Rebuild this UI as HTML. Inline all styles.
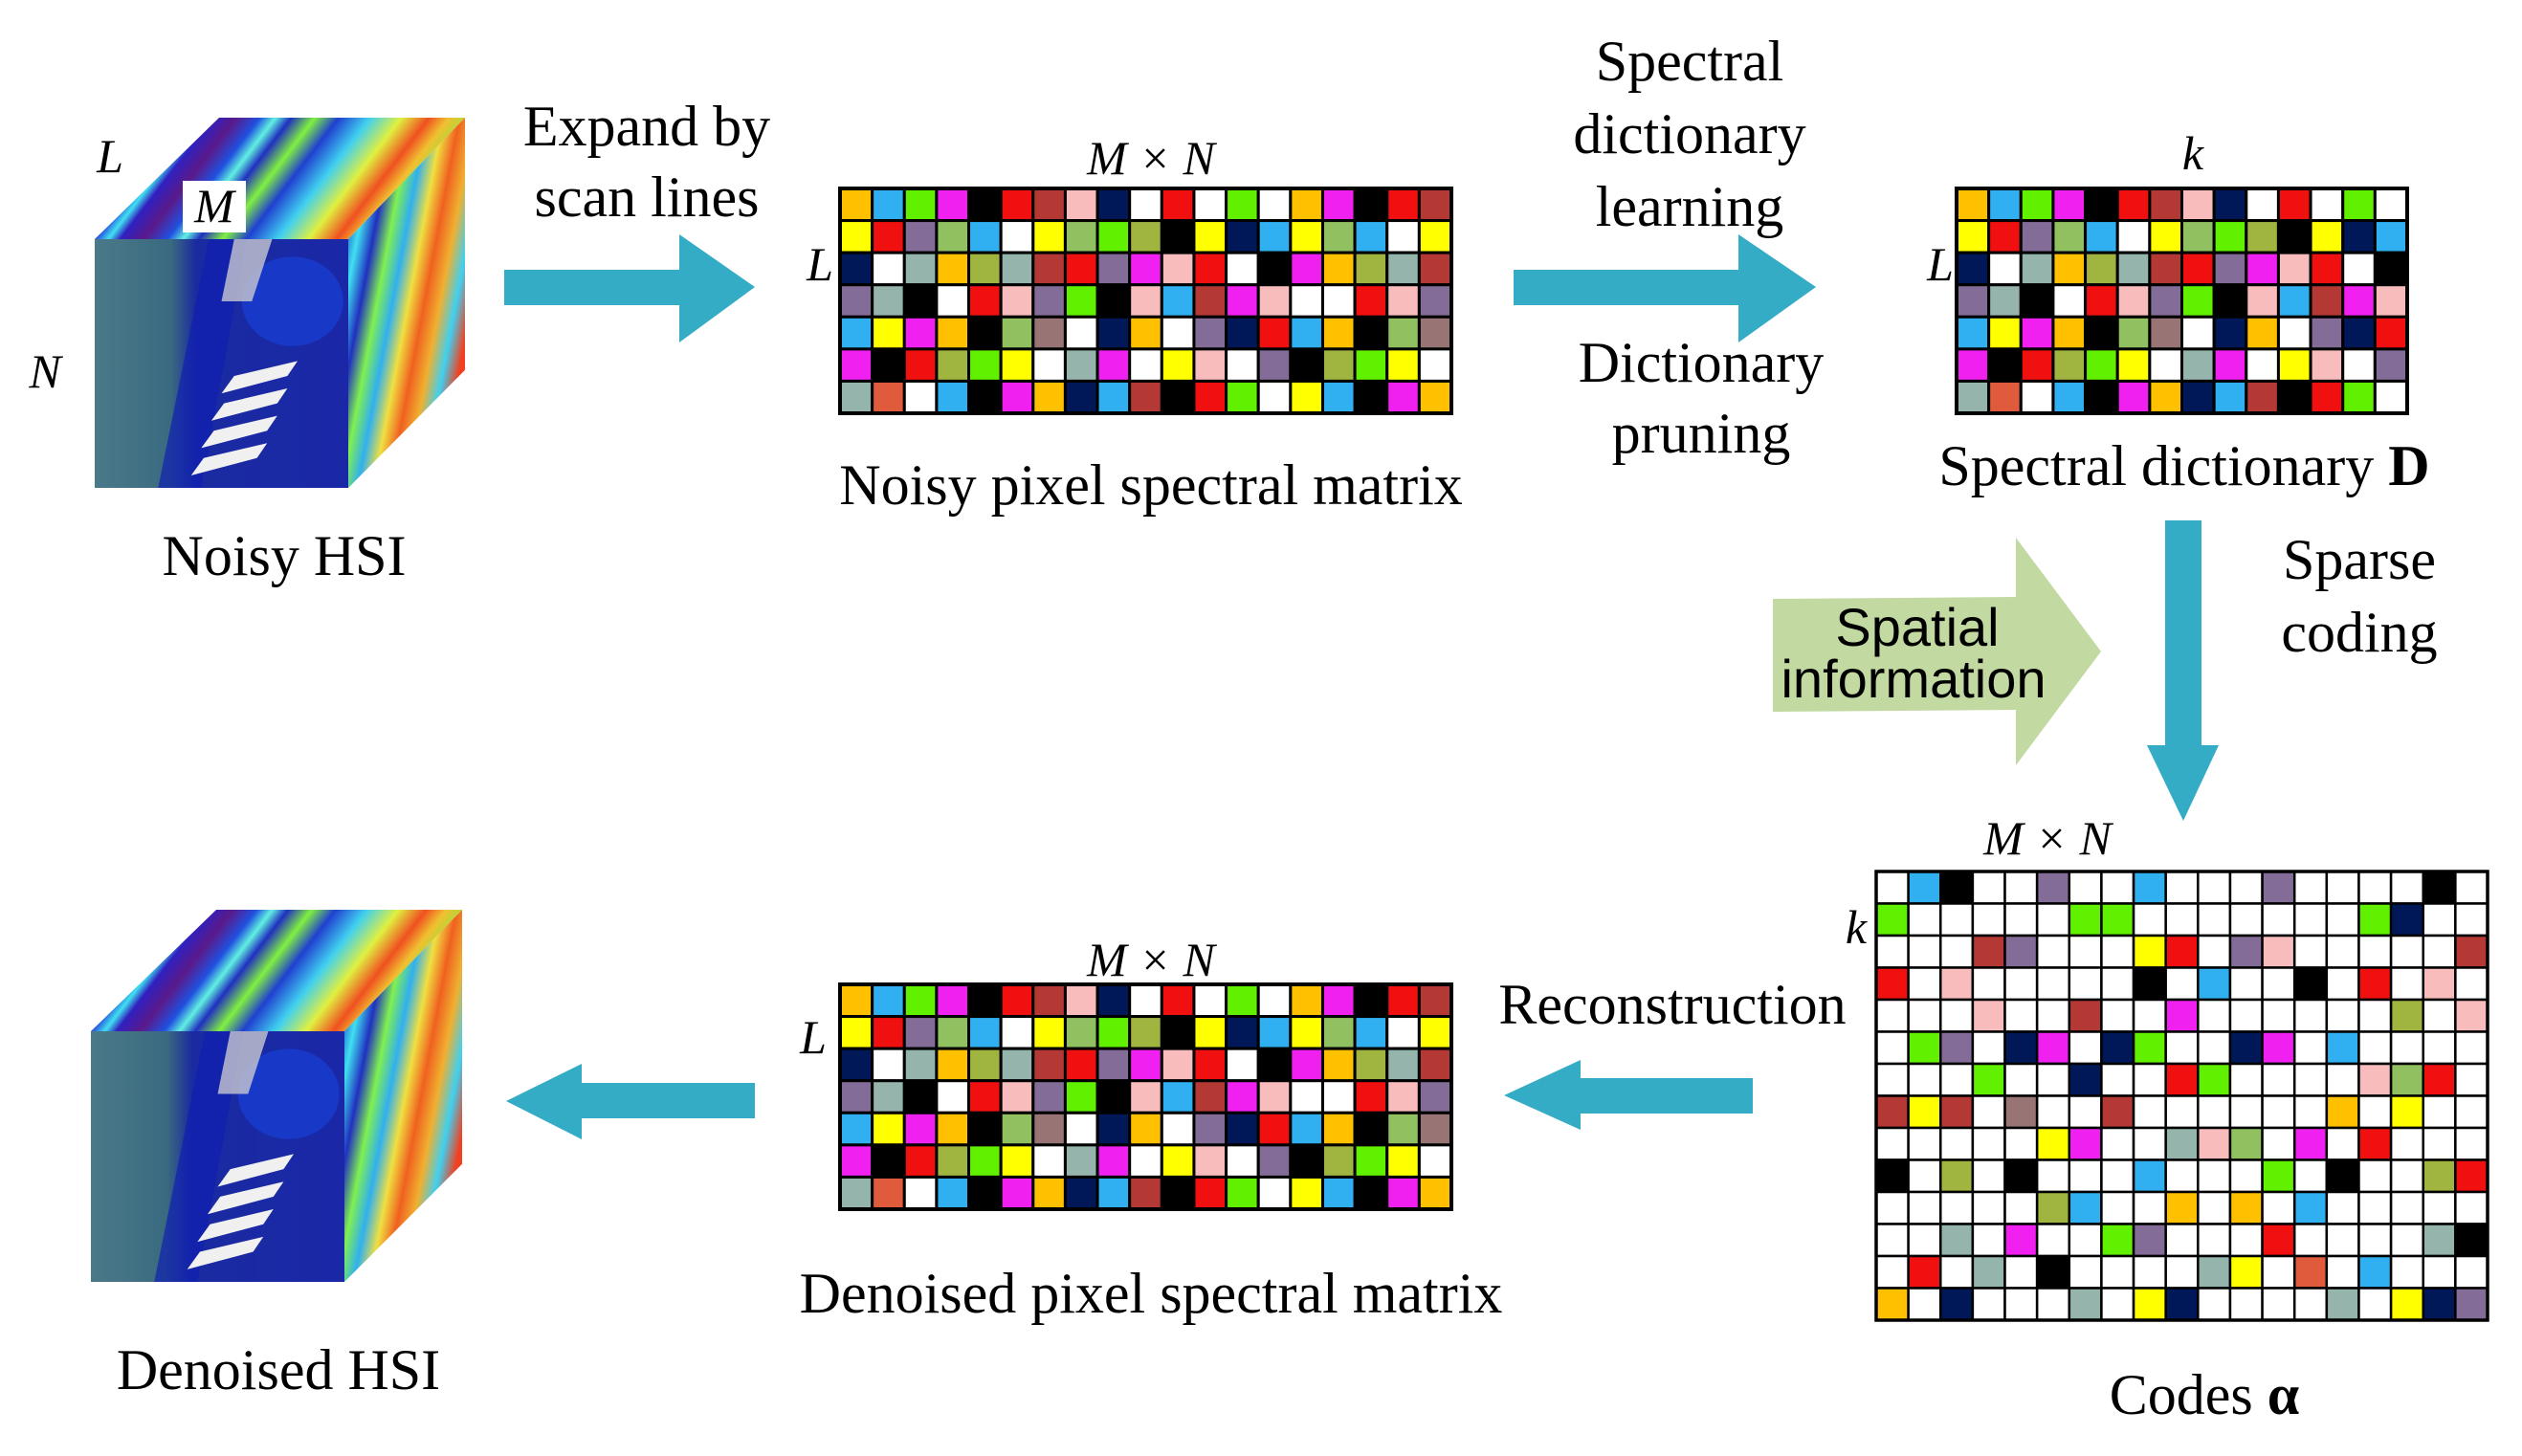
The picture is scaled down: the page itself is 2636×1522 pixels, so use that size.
<!DOCTYPE html>
<html><head><meta charset="utf-8"><style>
html,body{margin:0;padding:0;background:#fff;width:2636px;height:1522px;overflow:hidden}
svg{display:block}
text{font-family:"Liberation Serif",serif;fill:#000}
.s{font-family:"Liberation Sans",sans-serif}
</style></head><body>
<svg id="s" width="2636" height="1522" viewBox="0 0 2636 1522" xmlns="http://www.w3.org/2000/svg">
<defs>
<linearGradient id="top" x1="0" y1="0" x2="1" y2="0.25">
<stop offset="0" stop-color="#5a1a8a"/><stop offset="0.2" stop-color="#6a1a9a"/><stop offset="0.24" stop-color="#2a5ae0"/><stop offset="0.27" stop-color="#40e0f0"/><stop offset="0.3" stop-color="#3020c0"/><stop offset="0.36" stop-color="#5a1a8a"/><stop offset="0.42" stop-color="#2050e0"/><stop offset="0.46" stop-color="#60f0e0"/><stop offset="0.5" stop-color="#2030c0"/><stop offset="0.56" stop-color="#80f040"/><stop offset="0.62" stop-color="#2040d0"/><stop offset="0.7" stop-color="#40d0f0"/><stop offset="0.78" stop-color="#e0f040"/><stop offset="0.85" stop-color="#f05020"/><stop offset="0.9" stop-color="#f0c030"/><stop offset="1" stop-color="#70f040"/>
</linearGradient>
<linearGradient id="right" x1="0" y1="0" x2="1" y2="0.6">
<stop offset="0" stop-color="#4a1a8a"/><stop offset="0.1" stop-color="#2040d0"/><stop offset="0.2" stop-color="#40e0f0"/><stop offset="0.3" stop-color="#2030c0"/><stop offset="0.4" stop-color="#80f050"/><stop offset="0.5" stop-color="#30b0f0"/><stop offset="0.6" stop-color="#f0e040"/><stop offset="0.7" stop-color="#f06020"/><stop offset="0.8" stop-color="#f0b030"/><stop offset="0.9" stop-color="#40d0f0"/><stop offset="1" stop-color="#f04020"/>
</linearGradient>
<linearGradient id="front" x1="0" y1="0" x2="1" y2="0">
<stop offset="0" stop-color="#4a7a88"/><stop offset="0.3" stop-color="#3a6a80"/><stop offset="0.4" stop-color="#1a2aa0"/><stop offset="1" stop-color="#1a28a8"/>
</linearGradient>
</defs>
<g id="g"></g>
<polygon fill="#35acc6" points="527,282 710,282 710,245 789,300 710,358 710,319 527,319"/>
<polygon fill="#35acc6" points="1582,282 1817,282 1817,245 1898,300 1817,358 1817,319 1582,319"/>
<polygon fill="#35acc6" points="2263,544 2301,544 2301,779 2319,779 2282,858 2244,779 2263,779"/>
<polygon fill="#35acc6" points="1832,1127 1652,1127 1652,1108 1572,1145 1652,1181 1652,1164 1832,1164"/>
<polygon fill="#35acc6" points="789,1132 608,1132 608,1112 529,1151 608,1191 608,1169 789,1169"/>
<polygon fill="#c2d9a1" points="1853,626 2107,624 2107,562 2196,681 2107,800 2107,742 1853,744"/>
<g font-size="60" text-anchor="middle">
<text x="676" y="152">Expand by</text>
<text x="676" y="226">scan lines</text>
<text x="1203" y="527">Noisy pixel spectral matrix</text>
<text x="1766" y="84">Spectral</text>
<text x="1766" y="160">dictionary</text>
<text x="1766" y="236">learning</text>
<text x="1778" y="399">Dictionary</text>
<text x="1778" y="473">pruning</text>
<text x="2283" y="507">Spectral dictionary <tspan font-weight="bold">D</tspan></text>
<text x="2466" y="605">Sparse</text>
<text x="2466" y="681">coding</text>
<text x="1748" y="1070">Reconstruction</text>
<text x="2304" y="1478">Codes <tspan font-weight="bold">α</tspan></text>
<text x="1203" y="1372">Denoised pixel spectral matrix</text>
<text x="291" y="1452">Denoised HSI</text>
<text x="297" y="601">Noisy HSI</text>
</g>
<g font-size="56" text-anchor="middle">
<text class="s" x="2004" y="675">Spatial</text>
<text class="s" x="2000" y="729">information</text>
</g>
<g font-size="50" font-style="italic" text-anchor="middle">
<text x="1203" y="182">M × N</text>
<text x="1203" y="1020">M × N</text>
<text x="2140" y="893">M × N</text>
<text x="857" y="293">L</text>
<text x="850" y="1101">L</text>
<text x="2028" y="293">L</text>
<text x="2292" y="177">k</text>
<text x="1940" y="986">k</text>
<text x="115" y="180">L</text>
<text x="47" y="405">N</text>
</g>
</svg>
<script>
var C={W:"#ffffff",B:"#30b0f0",K:"#000000",P:"#846c98",G:"#60f000",N:"#001858",R:"#f01010",Br:"#b43834",Y:"#ffff00",Pk:"#f8bcbc",M:"#f020f0",O:"#a0b440",L:"#90c060",T:"#94b4ac",Mv:"#987474",Or:"#ffc000",Rr:"#e05a3c"};
var noisy=["Or B G M K R Br Pk N W R W G W Or M K R Br","Y R P L B W Y L G O K Y N B Y L B W Y","N W T Or O T Br R P M Pk R W K M Or O T Br","P T K W R Pk P G K Pk B Br M Pk W W R Pk P","B Y M Or K L Mv W N Or W P N R B Or K L Mv","M K R O G Y W T M W Y Pk W P K O G Y W","T Rr W B K M Or N B Br K R G W Y B K M Or"];
var dict=["Or B G M K R Br Pk N W R W G W","Y R P L B W Y L G O K Y N B","N W T Or O T Br R P M Pk R W K","P T K W R Pk P G K Pk B Br M Pk","B Y M Or K L Mv W N Or W P N R","M K R O G Y W T M W Y Pk W P","T Rr W B K M Or N B Br K R G W"];
var codes=["W B K W W P W W B W W W P W W W W K W","G W W W W W G G W W W W W W W G N W W","W W W Br P W W W Y R W P Pk W W W W W Br","R W Pk W W W W W K W B W W K W R W Pk W","W W W Pk W W Br W W M W W W W W W O W Pk","W G P W N M W N G W W N M W B W W W W","W W W G W W N W W R G W W W W Pk L R W","Br Y Br W Mv W W Br W W W W W W Or W Y W W","W W W W W Y M W W T Pk L W M W R W W W","K W O W K W W W B W W W G W K W W O R","W W W W W O B W W Or W Or W B W W W W W","W W T W M W W G P W W W R W W W W T K","W R W T W K W W W W T Y W Rr W B W W W","Or W N W W W T W Y N W W W W T W Y N P"];
var h="";
function grid(rows,x0,y0,x1,y1,sw){var r=rows.length,c=rows[0].split(" ").length,w=(x1-x0)/c,hh=(y1-y0)/r;
for(var i=0;i<r;i++){var a=rows[i].split(" ");for(var j=0;j<c;j++){h+='<rect x="'+(x0+j*w)+'" y="'+(y0+i*hh)+'" width="'+w+'" height="'+hh+'" fill="'+C[a[j]]+'" stroke="#000" stroke-width="'+sw+'"/>';}}
h+='<rect x="'+x0+'" y="'+y0+'" width="'+(x1-x0)+'" height="'+(y1-y0)+'" fill="none" stroke="#000" stroke-width="'+(sw+1)+'"/>';}
grid(noisy,878,197,1517,432,3);
grid(noisy,878,1029,1517,1264,3);
grid(dict,2045,197,2516,432,3);
grid(codes,1961,911,2600,1380,2.5);
function cube(fx0,fy0,fx1,fy1,dx,dy,label){
var bx0=fx0+dx,by0=fy0-dy,bx1=fx1+dx-8;
h+='<polygon points="'+fx0+','+fy0+' '+fx1+','+fy0+' '+bx1+','+by0+' '+bx0+','+by0+'" fill="url(#top)"/>';
h+='<polygon points="'+fx1+','+fy0+' '+bx1+','+by0+' '+bx1+','+(fy1-dy*0.97)+' '+fx1+','+fy1+'" fill="url(#right)"/>';
h+='<rect x="'+fx0+'" y="'+fy0+'" width="'+(fx1-fx0)+'" height="'+(fy1-fy0)+'" fill="url(#front)"/>';
var w=fx1-fx0,H=fy1-fy0;
h+='<polygon points="'+(fx0+w*0.25)+','+fy1+' '+(fx0+w*0.45)+','+fy0+' '+(fx0+w*0.6)+','+fy0+' '+(fx0+w*0.42)+','+fy1+'" fill="#1020b0" opacity="0.7"/>';
h+='<ellipse cx="'+(fx0+w*0.78)+'" cy="'+(fy0+H*0.25)+'" rx="'+(w*0.2)+'" ry="'+(H*0.18)+'" fill="#1838c8"/>';
h+='<polygon points="'+(fx0+w*0.55)+','+fy0+' '+(fx0+w*0.7)+','+fy0+' '+(fx0+w*0.62)+','+(fy0+H*0.25)+' '+(fx0+w*0.5)+','+(fy0+H*0.25)+'" fill="#c8c8d0" opacity="0.8"/>';
for(var k=0;k<4;k++){var yy=fy0+H*(0.55+k*0.11);h+='<polygon points="'+(fx0+w*(0.55-k*0.04))+','+yy+' '+(fx0+w*(0.8-k*0.04))+','+(yy-H*0.06)+' '+(fx0+w*(0.76-k*0.04))+','+(yy+H*0.0)+' '+(fx0+w*(0.5-k*0.04))+','+(yy+H*0.07)+'" fill="#f0f0f0"/>';}
if(label){h+='<rect x="191" y="189" width="66" height="54" fill="#fff"/><text x="224" y="232" font-size="50" font-style="italic" text-anchor="middle">M</text>';}
}
cube(99,250,364,510,130,127,true);
cube(95,1078,360,1340,131,127,false);
document.getElementById("g").innerHTML=h;
</script>
</body></html>
